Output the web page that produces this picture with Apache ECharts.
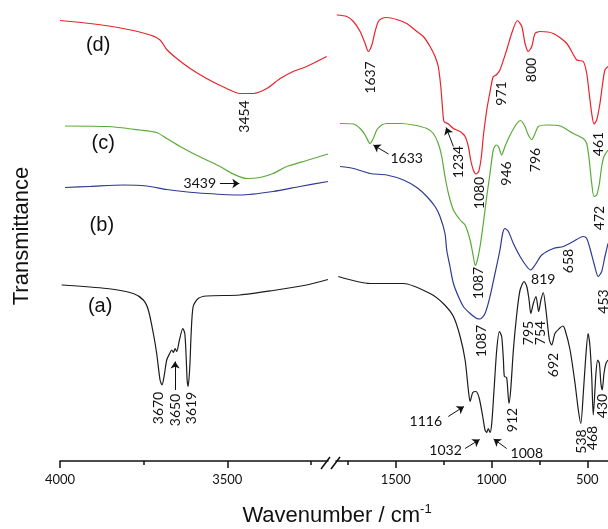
<!DOCTYPE html>
<html>
<head>
<meta charset="utf-8">
<script src="https://cdn.jsdelivr.net/npm/echarts@6.0.0/dist/echarts.min.js"></script>
<style>html,body{margin:0;padding:0;background:#fff}#ftir{width:608px;height:529px}</style>
</head>
<body>
<div id="ftir"></div>
<script>
// FTIR spectra, [wavenumber cm-1, transmittance a.u. (traces offset)]
// high wavenumber part (4000 - ~3200)
var dLeft = [[4000,88.1],[3910,87.5],[3811,86.5],[3731,85.2],[3701,84.2],[3681,82.3],[3651,80.5],[3611,78.5],[3562,76.5],[3502,74.5],[3462,73.5],[3422,73.5],[3382,74.5],[3342,76.5],[3303,77.9],[3263,78.9],[3203,80.9]];
var cLeft = [[3985,67],[3860,66.9],[3761,66.2],[3711,65.7],[3681,64.5],[3641,62.9],[3602,61.5],[3562,60.2],[3522,58.9],[3482,57.4],[3442,56.5],[3402,56.7],[3363,57.5],[3322,58.9],[3263,60.1],[3199,61.4]];
var bLeft = [[3985,54.7],[3910,54.9],[3811,55.2],[3741,55.0],[3681,54.3],[3632,53.9],[3562,53.5],[3462,53.2],[3363,53.9],[3283,54.9],[3199,55.9]];
var aLeft = [[3995,35.2],[3860,34.5],[3781,33.5],[3751,32.2],[3736,30.2],[3721,25.5],[3711,21.5],[3701,16.2],[3695,15.2],[3689,16.9],[3681,20.2],[3673,21.4],[3666,22.2],[3661,21.7],[3656,22.5],[3651,21.9],[3643,24.2],[3633,26.5],[3627,25.5],[3623,20.9],[3620,16.2],[3617,14.9],[3612,18.9],[3608,25.5],[3602,30.9],[3587,32.5],[3562,33],[3462,33.2],[3363,34.1],[3263,35.2],[3199,36.3]];

// fingerprint part (~1800 - 400)
var dRight = [[1808,89.2],[1756,88.9],[1721,87.9],[1686,85.9],[1660,83.5],[1643,81.9],[1625,83.2],[1608,85.9],[1591,87.9],[1573,88.5],[1547,88.7],[1495,88.3],[1443,87.5],[1390,85.9],[1356,84.9],[1321,82.9],[1295,80.9],[1278,78.9],[1265,74.9],[1255,70.2],[1248,67.9],[1225,67.4],[1199,66.5],[1164,65.9],[1138,64.9],[1121,62.9],[1109,60.2],[1095,58.2],[1081,57.4],[1067,57.9],[1053,60.9],[1043,64.9],[1025,70.2],[1008,73.8],[992,76.8],[976,77.2],[956,78.2],[921,82.2],[895,85.5],[865,88.1],[842,86.9],[825,83.5],[808,81.9],[790,82.9],[773,85.5],[747,85.9],[677,85.5],[607,83.5],[555,80.2],[521,79.9],[503,77.5],[490,73.5],[477,69.5],[465,67.4],[451,68.2],[434,71.5],[420,75.5],[408,78.2],[392,78.9]];
var cRight = [[1791,67.5],[1721,67.4],[1686,66.5],[1660,65.2],[1634,63.5],[1617,64.5],[1599,66.2],[1573,67.2],[1547,67.5],[1478,67.5],[1408,67.2],[1338,66.5],[1304,65.5],[1278,63.5],[1260,60.9],[1243,56.9],[1225,53.5],[1199,50.2],[1164,48.2],[1138,47.2],[1112,44.2],[1095,40.9],[1085,39.1],[1074,40.2],[1060,42.9],[1043,47.5],[1025,52.9],[1008,57.5],[991,62.2],[976,63.2],[964,62.9],[947,61.2],[930,62.9],[903,65.2],[868,67.5],[848,68.1],[825,66.9],[808,65.2],[790,64.3],[773,65.5],[756,66.9],[712,67.2],[642,67],[573,65.5],[521,64.5],[503,63.5],[490,60.2],[477,55.5],[465,52.9],[451,53.2],[437,55.5],[425,58.9],[413,60.9],[392,62.2]];
var bRight = [[1791,58.9],[1721,58.5],[1634,57.5],[1547,57.2],[1460,56.2],[1390,54.7],[1338,52.9],[1295,50.9],[1269,48.9],[1243,45.5],[1234,42.2],[1217,38.9],[1199,35.5],[1173,32.9],[1147,30.9],[1112,29.5],[1077,28.5],[1060,28.4],[1034,29.5],[1008,32.9],[982,37.5],[956,42.2],[942,45.5],[930,46.5],[912,45.9],[886,43.5],[851,40.9],[816,38.9],[795,38.2],[773,39.2],[738,41.2],[677,42.5],[625,42.9],[573,43.9],[521,44.9],[503,44.5],[486,42.5],[465,39.5],[443,36.9],[425,37.9],[408,40.9],[392,43.5]];
var aRight = [[1800,36.9],[1634,35.5],[1460,35.5],[1321,33.5],[1252,31.5],[1199,28.9],[1164,24.9],[1138,20.2],[1121,14.2],[1112,11.9],[1098,13.7],[1081,13.9],[1064,12.5],[1046,8.9],[1034,6.2],[1025,5.7],[1017,6.5],[1008,5.7],[999,7.5],[987,14.2],[973,22.2],[959,25.9],[947,24.9],[938,20.2],[933,16.9],[921,16.7],[909,11.5],[900,14.2],[886,22.2],[868,29.5],[851,34.2],[830,35.9],[816,34.9],[804,32.2],[795,29.5],[782,31.5],[768,32.9],[754,29.9],[742,32.2],[730,33.7],[716,30.2],[698,24.2],[686,23.2],[669,25.5],[646,26.5],[628,27],[616,26.2],[590,22.2],[564,15.5],[547,10.2],[534,7.5],[521,13.5],[508,20.9],[496,25.5],[486,22.9],[477,16.9],[469,9.2],[455,17.5],[446,20.2],[437,19.5],[429,15.5],[422,14.2],[413,17.5],[403,19.5],[392,20.2]];

var ticksLeft = [4000, 3500], minorLeft = [3750, 3250];
var ticksRight = [1500, 1000, 500], minorRight = [1750, 1250, 750];

// [text, part (0 left / 1 right), wavenumber, transmittance, rotate]
var traceNames = [['(d)',0,3886,83.2,0],['(c)',0,3871,63.6,0],['(b)',0,3875,47.2,0],['(a)',0,3880,30.9,0]];
var peakLabels = [
  ['3454',0,3450,68.9,90],['3439',0,3582,55.5,0],['3670',0,3707,10.6,90],['3650',0,3656,10.2,90],['3619',0,3606,10.6,90],
  ['1637',1,1634,76.7,90],['971',1,947,73.5,90],['800',1,790,78.2,90],['461',1,444,63.4,90],
  ['1633',1,1443,60.5,0],['1234',1,1171,59.8,90],['1080',1,1064,53.6,90],['946',1,921,57.5,90],['796',1,773,60.2,90],['472',1,434,48.6,90],
  ['1087',1,1069,35.6,90],['819',1,730,36.4,0],['658',1,600,40,90],['453',1,416,31.9,90],
  ['1087',1,1052,24,90],['795',1,808,25.6,90],['754',1,744,25.6,90],['692',1,677,19.2,90],
  ['1116',1,1343,7.9,0],['1032',1,1240,2.2,0],['1008',1,816,1.5,0],['912',1,889,8.2,90],['538',1,531,3.9,90],['468',1,473,4.6,90],['430',1,420,11,90]
];
// [part, from, to]
var arrows = [
  [0,[3522,55.5],[3464,55.5]],
  [0,[3656,14.2],[3656,19.9]],
  [1,[1538,61.4],[1617,63.2]],
  [1,[1199,62.9],[1237,66.7]],
  [1,[1226,8.9],[1144,10.9]],
  [1,[1138,2.5],[1062,4.3]],
  [1,[921,2.5],[989,4.4]]
];

var numFont = 'Lato';
var ink = '#111';

function mkAxis(g, min, max, vals, len, main) {
  return {
    type: 'value', gridIndex: g, position: 'bottom', inverse: true, min: min, max: max,
    axisLine: {show: main, lineStyle: {color: ink, width: 1.5}},
    axisTick: {show: true, customValues: vals, length: len, lineStyle: {color: ink, width: 1.5}},
    axisLabel: {show: main, customValues: vals, margin: 12, color: ink, fontFamily: numFont, fontSize: 13,
      formatter: function (v) { return String(v); }},
    splitLine: {show: false}
  };
}

function trace(data, g, color) {
  return {
    type: 'line', xAxisIndex: g * 2, yAxisIndex: g, data: data,
    showSymbol: false, symbol: 'none', smooth: 0.25,
    lineStyle: {color: color, width: 1.2}, silent: true
  };
}

function labelSeries(g) {
  var items = peakLabels.filter(function (p) { return p[1] === g; }).map(function (p) {
    return {value: [p[2], p[3]], name: p[0], label: {rotate: p[4]}};
  });
  if (g === 0) {
    traceNames.forEach(function (p) {
      items.push({value: [p[2], p[3]], name: p[0],
        label: {fontFamily: 'Liberation Sans', fontSize: 20}});
    });
  }
  return {
    type: 'scatter', xAxisIndex: g * 2, yAxisIndex: g, symbolSize: 0, silent: true,
    itemStyle: {opacity: 1},
    data: items,
    label: {show: true, position: 'inside', formatter: '{b}', color: ink, opacity: 1,
      fontFamily: numFont, fontSize: 14}
  };
}

function arrowSeries(g) {
  return {
    type: 'lines', coordinateSystem: 'cartesian2d', xAxisIndex: g * 2, yAxisIndex: g,
    symbol: ['none', 'arrow'], symbolSize: 7, silent: true,
    lineStyle: {color: ink, width: 1, opacity: 1},
    data: arrows.filter(function (a) { return a[0] === g; }).map(function (a) {
      return {coords: [a[1], a[2]]};
    })
  };
}

var chart = echarts.init(document.getElementById('ftir'));
chart.setOption({
  animation: false,
  grid: [
    {left: 60, top: 11, width: 268, height: 450},
    {left: 336, top: 11, width: 272, height: 450}
  ],
  xAxis: [
    mkAxis(0, 3199, 4000, ticksLeft, 7, true),
    mkAxis(0, 3199, 4000, minorLeft, 4, false),
    mkAxis(1, 392, 1812, ticksRight, 7, true),
    mkAxis(1, 392, 1812, minorRight, 4, false)
  ],
  yAxis: [
    {gridIndex: 0, min: 0, max: 90, name: 'Transmittance', nameLocation: 'middle', nameGap: 27,
      nameTextStyle: {fontFamily: 'Liberation Sans', fontSize: 22, color: ink},
      axisLine: {show: false}, axisTick: {show: false}, axisLabel: {show: false}, splitLine: {show: false}},
    {gridIndex: 1, min: 0, max: 90, show: false}
  ],
  graphic: [
    {type: 'text', x: 337, y: 516, style: {
      text: '{a|Wavenumber / cm}{b|-1}', align: 'center', verticalAlign: 'middle',
      rich: {
        a: {fontFamily: 'Liberation Sans', fontSize: 22, fill: ink, lineHeight: 26},
        b: {fontFamily: 'Liberation Sans', fontSize: 13, fill: ink, verticalAlign: 'top', lineHeight: 26}
      }}},
    {type: 'line', shape: {x1: 321, y1: 469, x2: 330, y2: 457}, style: {stroke: ink, lineWidth: 1.5}},
    {type: 'line', shape: {x1: 331, y1: 469, x2: 340, y2: 457}, style: {stroke: ink, lineWidth: 1.5}}
  ],
  series: [
    trace(dLeft, 0, '#e8232a'), trace(cLeft, 0, '#5aaa3a'), trace(bLeft, 0, '#2e3a8f'), trace(aLeft, 0, '#1c1c1c'),
    trace(dRight, 1, '#e8232a'), trace(cRight, 1, '#5aaa3a'), trace(bRight, 1, '#2e3a8f'), trace(aRight, 1, '#1c1c1c'),
    labelSeries(0), labelSeries(1), arrowSeries(0), arrowSeries(1)
  ]
});
</script>
</body>
</html>
